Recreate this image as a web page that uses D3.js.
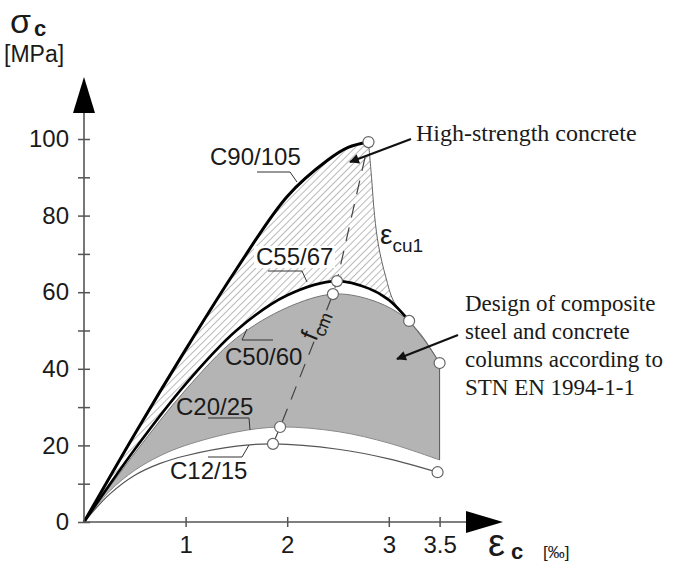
<!DOCTYPE html>
<html lang="en">
<head>
<meta charset="UTF-8">
<title>Concrete stress-strain</title>
<style>
  body { margin: 0; background: #fff; }
  svg text { font-family: "Liberation Sans", Arial, sans-serif; fill: #1a1a1a; }
  .serif { font-family: "Liberation Serif", "Times New Roman", serif; }
</style>
</head>
<body>
<div id="chart"></div>
<script src="https://d3js.org/d3.v7.min.js"></script>
<script>
// strain [‰], stress [MPa]
const c90 = [[0,0],[0.5,23],[1,45],[1.5,66],[2,85],[2.4,94.5],[2.6,97.8],[2.8,99.2]];
const c55 = [[0,0],[0.5,19],[1,36],[1.5,50],[2,59.2],[2.49,62.9],[2.8,61],[3,58],[3.2,52.5]];
const c50 = [[0,0],[0.5,18],[1,34.5],[1.5,48],[2,56],[2.45,59.5],[2.8,58.2],[3.1,54.5],[3.3,49.5],[3.5,41.5]];
const c20 = [[0,0],[0.25,8],[0.5,13.5],[0.75,17.3],[1,20],[1.5,23.5],[1.93,24.8],[2.5,23.6],[3,20.6],[3.5,16.2]];
const c12 = [[0,0],[0.25,7.2],[0.5,12.2],[0.75,15.3],[1,17.3],[1.5,19.8],[1.86,20.4],[2.5,19],[3,16.5],[3.48,13]];
const ecu1 = [[2.8,99.2],[2.83,90],[2.86,80],[2.9,72],[2.97,64],[3.05,57.5],[3.2,52.5],[3.35,47.5],[3.5,41.5]];
const peaks = [[1.86,20.4],[1.93,24.8],[2.45,59.5],[2.49,62.9],[2.8,99.2]];
const markers = [[2.8,99.2],[2.49,62.9],[3.2,52.5],[2.45,59.5],[3.5,41.5],[1.93,24.8],[1.86,20.4],[3.48,13]];
const yTicks = [0,10,20,30,40,50,60,70,80,90,100];
const yLabels = [0,20,40,60,80,100];
const xTicks = [1,2,3,3.5];

const W = 686, H = 565;
const x = d3.scaleLinear().domain([0, 3.5]).range([84, 439.6]);
const y = d3.scaleLinear().domain([0, 100]).range([522, 139]);

const svg = d3.select('#chart').append('svg')
  .attr('width', W).attr('height', H);

const defs = svg.append('defs');
const pat = defs.append('pattern')
  .attr('id', 'hatch').attr('patternUnits', 'userSpaceOnUse')
  .attr('width', 5).attr('height', 5)
  .attr('patternTransform', 'rotate(45)');
pat.append('line').attr('x1', 0).attr('y1', 0).attr('x2', 0).attr('y2', 5)
  .attr('stroke', '#666').attr('stroke-width', 0.9);
defs.append('marker').attr('id', 'arr').attr('viewBox', '0 0 10 10')
  .attr('refX', 9).attr('refY', 5).attr('markerWidth', 5).attr('markerHeight', 4.5)
  .attr('orient', 'auto').attr('markerUnits', 'strokeWidth')
  .append('path').attr('d', 'M0,0 L10,5 L0,10 Z').attr('fill', '#111');

const line = d3.line().x(d => x(d[0])).y(d => y(d[1])).curve(d3.curveCatmullRom.alpha(0.5));
const join = (...parts) => parts.map((p, i) => i ? line(p).replace(/^M/, 'L') : line(p)).join('') + 'Z';

// grey zone: C50/60 down to C20/25
svg.append('path')
  .attr('d', join(c50, [[3.5, 41.5], [3.5, 16.2]], c20.slice().reverse()))
  .attr('fill', '#b4b4b4').attr('stroke', 'none');

// hatched zone: C90/105 to eps_cu1 to C55/67
svg.append('path')
  .attr('d', join(c90, ecu1.slice(0, 7), c55.slice().reverse()))
  .attr('fill', 'url(#hatch)').attr('stroke', 'none');

// curves
svg.append('path').attr('d', line(c12)).attr('fill', 'none').attr('stroke', '#555').attr('stroke-width', 1.2);
svg.append('path').attr('d', line(c20)).attr('fill', 'none').attr('stroke', '#8a8a8a').attr('stroke-width', 1);
svg.append('line').attr('x1', x(3.5)).attr('x2', x(3.5)).attr('y1', y(41.5)).attr('y2', y(16.2))
  .attr('stroke', '#555').attr('stroke-width', 1);
svg.append('path').attr('d', line(c50)).attr('fill', 'none').attr('stroke', '#777').attr('stroke-width', 1);
svg.append('path').attr('d', line(ecu1)).attr('fill', 'none').attr('stroke', '#666').attr('stroke-width', 1);
svg.append('path').attr('d', line(c55)).attr('fill', 'none').attr('stroke', '#000').attr('stroke-width', 2.6);
svg.append('path').attr('d', line(c90)).attr('fill', 'none').attr('stroke', '#000').attr('stroke-width', 3);

// f_cm locus
svg.append('path').attr('d', d3.line().x(d => x(d[0])).y(d => y(d[1]))(peaks))
  .attr('fill', 'none').attr('stroke', '#444').attr('stroke-width', 1.2)
  .attr('stroke-dasharray', '14,10');

// axes
const yAxis = svg.append('g').attr('transform', `translate(${x(0)},0)`)
  .call(d3.axisLeft(y).tickValues(yTicks).tickSize(6)
    .tickFormat(d => yLabels.includes(d) ? d : ''));
yAxis.select('.domain').remove();
yAxis.selectAll('.tick line').attr('x1', -6).attr('x2', 6).attr('stroke', '#555').attr('stroke-width', 1.5);
yAxis.selectAll('.tick text').attr('x', -15).attr('font-size', 24)
  .attr('font-family', '"Liberation Sans", Arial, sans-serif').attr('fill', '#1a1a1a');

const xAxis = svg.append('g').attr('transform', `translate(0,${y(0)})`)
  .call(d3.axisBottom(x).tickValues(xTicks).tickSize(6).tickFormat(d => d));
xAxis.select('.domain').remove();
xAxis.selectAll('.tick line').attr('y1', -5).attr('y2', 5).attr('stroke', '#555').attr('stroke-width', 1.5);
xAxis.selectAll('.tick text').attr('y', 14).attr('font-size', 24)
  .attr('font-family', '"Liberation Sans", Arial, sans-serif').attr('fill', '#1a1a1a');

svg.append('line').attr('x1', x(0)).attr('x2', x(0)).attr('y1', y(0)).attr('y2', 112)
  .attr('stroke', '#555').attr('stroke-width', 1.6);
svg.append('path').attr('d', `M${x(0) - 11},113 L${x(0) + 11},113 L${x(0)},77 Z`).attr('fill', '#000');
svg.append('line').attr('x1', x(0)).attr('x2', 467).attr('y1', y(0)).attr('y2', y(0))
  .attr('stroke', '#555').attr('stroke-width', 1.6);
svg.append('path').attr('d', `M466,${y(0) - 11} L466,${y(0) + 11} L503,${y(0)} Z`).attr('fill', '#000');

// axis titles
svg.append('text').attr('x', 10).attr('y', 33).attr('font-size', 34).attr('font-weight', 300).text('σ');
svg.append('text').attr('x', 34).attr('y', 36).attr('font-size', 22).attr('font-weight', 'bold').text('c');
svg.append('text').attr('x', 4).attr('y', 62).attr('font-size', 23).text('[MPa]');
svg.append('text').attr('x', 488).attr('y', 556).attr('font-size', 38).attr('font-weight', 300).text('ε');
svg.append('text').attr('x', 511).attr('y', 559).attr('font-size', 22).attr('font-weight', 'bold').text('c');
svg.append('text').attr('x', 543).attr('y', 558).attr('font-size', 17).text('[‰]');

// markers
svg.selectAll('circle.m').data(markers).join('circle').attr('class', 'm')
  .attr('cx', d => x(d[0])).attr('cy', d => y(d[1])).attr('r', 5.5)
  .attr('fill', '#fff').attr('stroke', '#666').attr('stroke-width', 1.2);

// curve labels with leaders
const labels = [
  { t: 'C90/105', tx: 210, ty: 165, pts: [[257, 172], [290, 172], [297, 182]], bg: false },
  { t: 'C55/67', tx: 256, ty: 265, pts: [[268, 271], [302, 271], [307, 282]], bg: true },
  { t: 'C50/60', tx: 225, ty: 365, pts: [[273, 340], [242, 340], [247, 329]], bg: false },
  { t: 'C20/25', tx: 176, ty: 415, pts: [[208, 418], [249, 418], [250, 430]], bg: false },
  { t: 'C12/15', tx: 170, ty: 479, pts: [[208, 457], [242, 457], [249, 445]], bg: false }
];
labels.forEach(l => {
  if (l.bg) svg.append('rect').attr('x', l.tx - 2).attr('y', l.ty - 19).attr('width', 81).attr('height', 22).attr('fill', '#fff');
  svg.append('path').attr('d', d3.line()(l.pts)).attr('fill', 'none').attr('stroke', '#333').attr('stroke-width', 1);
  svg.append('text').attr('x', l.tx).attr('y', l.ty).attr('font-size', 24).text(l.t);
});

// eps_cu1 and f_cm
const ec = svg.append('text').attr('x', 380).attr('y', 244).attr('font-size', 28).attr('font-weight', 300);
ec.append('tspan').text('ε');
ec.append('tspan').attr('dy', 8).attr('font-size', 19).text('cu1');
const fc = svg.append('text').attr('transform', 'translate(316,342) rotate(-68)').attr('font-size', 25);
fc.append('tspan').text('f');
fc.append('tspan').attr('dy', 6).attr('font-size', 18).text('cm');

// annotations
svg.append('line').attr('x1', 411).attr('y1', 139).attr('x2', 350).attr('y2', 162)
  .attr('stroke', '#111').attr('stroke-width', 2.2).attr('marker-end', 'url(#arr)');
svg.append('text').attr('class', 'serif').attr('x', 416).attr('y', 141).attr('font-size', 24).text('High-strength concrete');

svg.append('line').attr('x1', 458).attr('y1', 335).attr('x2', 397).attr('y2', 359)
  .attr('stroke', '#111').attr('stroke-width', 2.2).attr('marker-end', 'url(#arr)');
const design = ['Design of composite', 'steel and concrete', 'columns according to', 'STN EN 1994-1-1'];
design.forEach((s, i) => {
  svg.append('text').attr('class', 'serif').attr('x', 465).attr('y', 311 + i * 28).attr('font-size', 23).text(s);
});
</script>
</body>
</html>
